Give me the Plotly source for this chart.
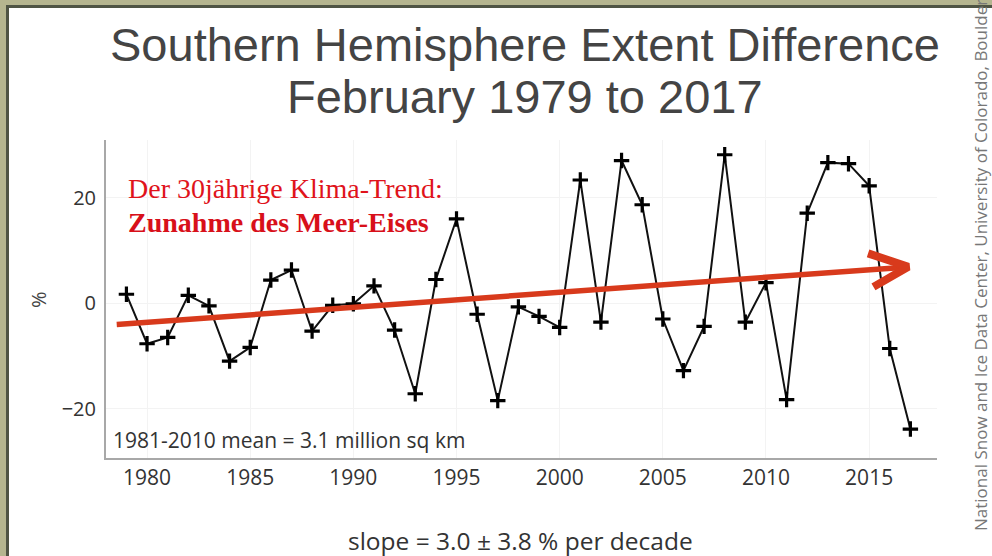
import plotly.graph_objects as go

years = list(range(1979, 2018))
extent_diff_pct = [1.7, -7.7, -6.5, 1.5, -0.5, -11.0, -8.4, 4.4, 6.3, -5.3,
                   -0.4, -0.1, 3.3, -5.1, -17.2, 4.5, 16.0, -2.1, -18.5, -0.7,
                   -2.5, -4.6, 23.4, -3.6, 27.1, 18.7, -3.0, -12.8, -4.4, 28.2,
                   -3.6, 3.9, -18.3, 17.1, 26.7, 26.5, 22.3, -8.6, -23.9]

x_ticks = [1980, 1985, 1990, 1995, 2000, 2005, 2010, 2015]
y_ticks = [-20, 0, 20]
y_tick_labels = ["\u221220", "0", "20"]

# red trend arrow (hand-drawn annotation in the original), data units
trend_x = [1978.53, 2016.75]
trend_y = [-4.06, 6.85]
head_x = [2014.95, 2016.9, 2015.21]
head_y = [9.47, 6.91, 3.10]

fig = go.Figure()

fig.add_trace(go.Scatter(
    x=years, y=extent_diff_pct, mode="lines+markers",
    line=dict(color="#111111", width=2),
    marker=dict(symbol="cross-thin", size=11, color="#000000",
                line=dict(color="#000000", width=3.2)),
    showlegend=False, hoverinfo="x+y"))

fig.add_trace(go.Scatter(
    x=trend_x, y=trend_y, mode="lines",
    line=dict(color="#d83a1c", width=5.5), showlegend=False, hoverinfo="skip"))
fig.add_trace(go.Scatter(
    x=head_x, y=head_y, mode="lines",
    line=dict(color="#d83a1c", width=8), showlegend=False, hoverinfo="skip"))

W, H = 992, 556
L, R, T, B = 106, 55, 140, 98
ph = H - T - B


def py(pix):
    return (H - B - pix) / ph


def px(pix):
    return (pix - L) / (W - L - R)


annotations = [
    dict(text="Southern Hemisphere Extent Difference", x=px(525), y=py(44),
         font=dict(family="Liberation Sans, Arial", size=47, color="#444444")),
    dict(text="February 1979 to 2017", x=px(525), y=py(96),
         font=dict(family="Liberation Sans, Arial", size=47, color="#444444")),
    dict(text="Der 30jährige Klima-Trend:", x=px(126), y=py(188), xanchor="left",
         font=dict(family="Liberation Serif, Times New Roman", size=28, color="#e0131b")),
    dict(text="<b>Zunahme des Meer-Eises</b>", x=px(126), y=py(222), xanchor="left",
         font=dict(family="Liberation Serif, Times New Roman", size=28, color="#d8101a")),
    dict(text="1981-2010 mean = 3.1 million sq km", x=px(111), y=py(440), xanchor="left",
         font=dict(family="Open Sans", size=21, color="#333333")),
    dict(text="slope = 3.0 \u00b1 3.8 % per decade", x=px(520), y=py(540),
         font=dict(family="Open Sans", size=24.5, color="#333333")),
    dict(text="%", x=px(38), y=py(300), textangle=-90,
         font=dict(family="Open Sans", size=20, color="#444444")),
    dict(text="National Snow and Ice Data Center, University of Colorado, Boulder",
         x=px(980), y=py(533), yanchor="bottom", textangle=-90,
         font=dict(family="Open Sans", size=17, color="#777777")),
]
for a in annotations:
    a.setdefault("xanchor", "center")
    a.setdefault("yanchor", "middle")
    a.update(xref="paper", yref="paper", showarrow=False)

fig.update_layout(
    width=W, height=H,
    margin=dict(l=L, r=R, t=T, b=B),
    paper_bgcolor="white", plot_bgcolor="white",
    annotations=annotations,
    xaxis=dict(range=[1978.01, 2018.29], tickvals=x_ticks,
               showline=True, linecolor="#a8a8a8", linewidth=2,
               showgrid=True, gridcolor="#f3f3f3", zeroline=False,
               ticks="", tickfont=dict(family="Open Sans", size=21, color="#333333")),
    yaxis=dict(range=[-29.4, 31.0], tickvals=y_ticks, ticktext=y_tick_labels,
               showline=True, linecolor="#a8a8a8", linewidth=2,
               showgrid=True, gridcolor="#f3f3f3", zeroline=False,
               ticks="", ticklabelstandoff=4,
               tickfont=dict(family="Open Sans", size=20, color="#333333")),
    shapes=[
        dict(type="rect", xref="paper", yref="paper", x0=px(0), x1=px(7), y0=py(H), y1=py(0),
             fillcolor="#b5b58f", line=dict(width=0), layer="above"),
        dict(type="rect", xref="paper", yref="paper", x0=px(0), x1=px(W), y0=py(5), y1=py(0),
             fillcolor="#b5b58f", line=dict(width=0), layer="above"),
        dict(type="rect", xref="paper", yref="paper", x0=px(6), x1=px(9), y0=py(H), y1=py(5),
             fillcolor="#4f5444", line=dict(width=0), layer="above"),
        dict(type="rect", xref="paper", yref="paper", x0=px(6), x1=px(W), y0=py(8), y1=py(5),
             fillcolor="#4f5444", line=dict(width=0), layer="above"),
    ],
)

fig.write_html("out.html", config={"displayModeBar": False},
               post_script="document.body.style.margin='0';document.body.style.overflow='hidden';")
